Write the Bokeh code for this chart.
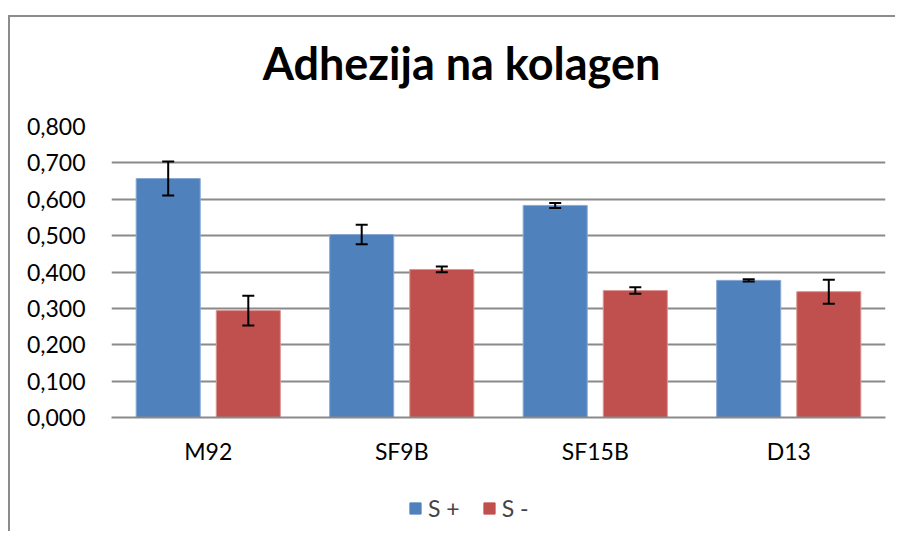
from bokeh.plotting import figure
from bokeh.layouts import column
from bokeh.models import (ColumnDataSource, FactorRange, FixedTicker, Whisker, TeeHead,
                          Legend, LegendItem, Label)
from bokeh.transform import dodge
from bokeh.embed import file_html
from bokeh.resources import INLINE

categories = ["M92", "SF9B", "SF15B", "D13"]
s_plus = [0.657, 0.503, 0.583, 0.377]
s_plus_err = [0.047, 0.027, 0.007, 0.003]
s_minus = [0.294, 0.407, 0.349, 0.346]
s_minus_err = [0.041, 0.008, 0.009, 0.033]
y_ticks = [0.0, 0.1, 0.2, 0.3, 0.4, 0.5, 0.6, 0.7, 0.8]
y_tick_labels = ["0,000", "0,100", "0,200", "0,300", "0,400", "0,500", "0,600", "0,700", "0,800"]
series_names = ["S +", "S -"]
title_text = "Adhezija na kolagen"

BLUE = "#4F81BD"
RED = "#C0504D"
GRID = "#8a8a8a"
FONT = "Lato"
W = 885

src = ColumnDataSource(dict(
    cat=categories,
    sp=s_plus,
    sp_lo=[v - e for v, e in zip(s_plus, s_plus_err)],
    sp_hi=[v + e for v, e in zip(s_plus, s_plus_err)],
    sm=s_minus,
    sm_lo=[v - e for v, e in zip(s_minus, s_minus_err)],
    sm_hi=[v + e for v, e in zip(s_minus, s_minus_err)],
))

# --- title strip ---
pt = figure(width=W, height=80, output_backend="svg", toolbar_location=None,
            x_range=(0, 1), y_range=(0, 1), x_axis_location=None, y_axis_location=None,
            min_border=0)
pt.outline_line_color = None
pt.grid.visible = False
pt.add_layout(Label(x=350, y=35, x_units="screen", y_units="screen", text=title_text,
                    text_font=FONT, text_font_size="45px", text_font_style="bold",
                    text_align="center", text_baseline="alphabetic", text_color="black"))

# --- main chart ---
p = figure(frame_width=774, frame_height=291, output_backend="svg", toolbar_location=None,
           x_range=FactorRange(*categories, range_padding=0), y_range=(0, 0.8),
           min_border_left=101, min_border_right=10, min_border_top=29,
           min_border_bottom=70)
p.outline_line_color = None

off = 0.207
w = 0.331
r1 = p.vbar(x=dodge("cat", -off, range=p.x_range), top="sp", width=w, source=src,
            fill_color=BLUE, line_color="#8aa9d4", line_width=1)
r2 = p.vbar(x=dodge("cat", off, range=p.x_range), top="sm", width=w, source=src,
            fill_color=RED, line_color="#d99694", line_width=1)

for col, lo, hi in [(-off, "sp_lo", "sp_hi"), (off, "sm_lo", "sm_hi")]:
    wh = Whisker(source=src, base=dodge("cat", col, range=p.x_range), lower=lo, upper=hi,
                 line_color="black", line_width=2, level="overlay",
                 upper_head=TeeHead(size=12, line_color="black", line_width=2),
                 lower_head=TeeHead(size=12, line_color="black", line_width=2))
    p.add_layout(wh)

p.xgrid.visible = False
p.ygrid.grid_line_color = GRID
p.ygrid.grid_line_width = 2
p.yaxis.ticker = FixedTicker(ticks=y_ticks)
p.yaxis.major_label_overrides = {t: l for t, l in zip(y_ticks, y_tick_labels)}
p.yaxis.axis_line_color = None
p.yaxis.major_tick_line_color = None
p.yaxis.minor_tick_line_color = None
p.yaxis.major_label_standoff = 20
p.yaxis.major_label_text_font = FONT
p.yaxis.major_label_text_font_size = "23px"
p.yaxis.major_label_text_color = "black"

p.xaxis.axis_line_color = GRID
p.xaxis.axis_line_width = 2
p.xaxis.major_tick_line_color = None
p.xaxis.minor_tick_line_color = None
p.xaxis.major_label_standoff = 13
p.xaxis.major_label_text_font = FONT
p.xaxis.major_label_text_font_size = "23px"
p.xaxis.major_label_text_color = "black"

# --- legend strip (hidden copies of the series carry the legend swatches) ---
pl = figure(width=W, height=44, output_backend="svg", toolbar_location=None,
            x_range=p.x_range, y_range=(0, 1), x_axis_location=None, y_axis_location=None,
            min_border=0)
pl.outline_line_color = None
pl.grid.visible = False
l1 = pl.vbar(x=dodge("cat", -off, range=p.x_range), top="sp", width=w, source=src,
             fill_color=BLUE, line_color=BLUE, visible=False)
l2 = pl.vbar(x=dodge("cat", off, range=p.x_range), top="sm", width=w, source=src,
             fill_color=RED, line_color=RED, visible=False)
legend = Legend(items=[LegendItem(label=series_names[0], renderers=[l1]),
                       LegendItem(label=series_names[1], renderers=[l2])],
                orientation="horizontal", location=(297, 9),
                label_text_font=FONT, label_text_font_size="23px",
                glyph_width=14, glyph_height=14, label_standoff=6, spacing=22,
                inactive_fill_alpha=0,
                border_line_color=None, background_fill_alpha=0, margin=0, padding=0)
pl.add_layout(legend, "center")

layout = column(pt, p, pl, spacing=0)
layout.styles = {"margin-top": "15px", "margin-left": "8px",
                 "border-top": "2px solid #8c8c8c", "border-left": "2px solid #8c8c8c"}

open("out.html", "w").write(file_html(layout, INLINE))
